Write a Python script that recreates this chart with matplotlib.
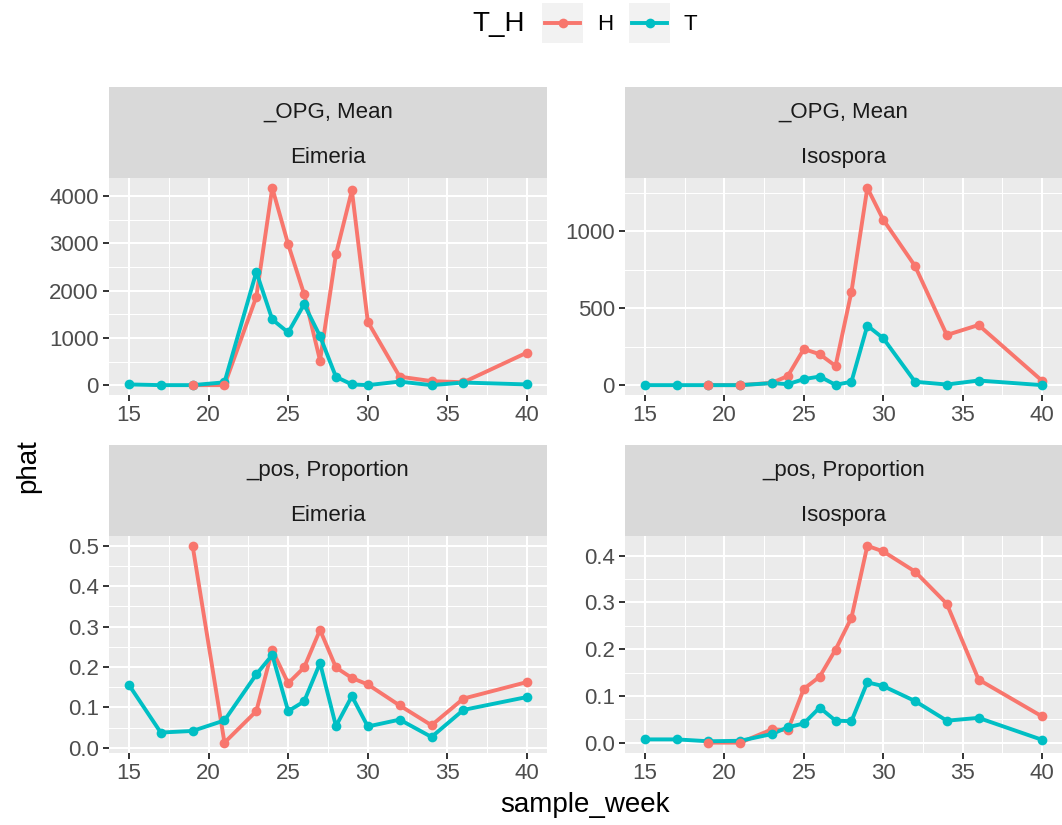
import matplotlib
matplotlib.use("Agg")
import matplotlib.pyplot as plt
from matplotlib.lines import Line2D
from matplotlib.patches import Rectangle
from matplotlib.ticker import MultipleLocator, AutoMinorLocator, FormatStrFormatter

plt.rcParams['font.family'] = ['Liberation Sans', 'DejaVu Sans']

# sample weeks (H group has no samples before week 19)
weeks_T = [15, 17, 19, 21, 23, 24, 25, 26, 27, 28, 29, 30, 32, 34, 36, 40]
weeks_H = [19, 21, 23, 24, 25, 26, 27, 28, 29, 30, 32, 34, 36, 40]

# mean OPG
eimeria_opg_H = [0, 0, 1870, 4175, 2980, 1925, 520, 2770, 4120, 1340, 180, 85, 60, 690]
eimeria_opg_T = [15, 0, 0, 60, 2395, 1390, 1115, 1710, 1035, 175, 15, 0, 75, 0, 55, 15]
isospora_opg_H = [0, 0, 15, 60, 235, 201, 125, 607, 1283, 1076, 775, 326, 391, 28]
isospora_opg_T = [0, 0, 0, 0, 13, 6, 39, 56, 2, 22, 387, 305, 22, 4, 30, 0]

# proportion positive
eimeria_pos_H = [0.5, 0.013, 0.091, 0.242, 0.160, 0.199, 0.292, 0.199, 0.173, 0.157,
                 0.105, 0.056, 0.122, 0.163]
eimeria_pos_T = [0.156, 0.038, 0.042, 0.068, 0.182, 0.230, 0.091, 0.115, 0.210, 0.054,
                 0.128, 0.053, 0.070, 0.027, 0.094, 0.126]
isospora_pos_H = [0, 0, 0.0285, 0.027, 0.115, 0.141, 0.199, 0.267, 0.421, 0.409,
                  0.366, 0.297, 0.135, 0.056]
isospora_pos_T = [0.007, 0.007, 0.003, 0.004, 0.0185, 0.033, 0.041, 0.075, 0.047, 0.046,
                  0.129, 0.121, 0.089, 0.047, 0.053, 0.006]

COL_H = '#F8766D'
COL_T = '#00BFC4'

W, H = 1062, 825


def px_box(left, top, right, bottom):
    """pixel box (origin top-left) -> figure fraction rect"""
    return [left / W, 1 - bottom / H, (right - left) / W, (bottom - top) / H]


fig = plt.figure(figsize=(W / 100, H / 100), dpi=100)
fig.patch.set_facecolor('white')

cols = [(109, 547), (625, 1062)]
rows = [(87, 178, 395), (445, 536, 752.5)]

panels = [
    (0, 0, '_OPG, Mean', 'Eimeria', eimeria_opg_H, eimeria_opg_T, 1000, '%d'),
    (0, 1, '_OPG, Mean', 'Isospora', isospora_opg_H, isospora_opg_T, 500, '%d'),
    (1, 0, '_pos, Proportion', 'Eimeria', eimeria_pos_H, eimeria_pos_T, 0.1, '%.1f'),
    (1, 1, '_pos, Proportion', 'Isospora', isospora_pos_H, isospora_pos_T, 0.1, '%.1f'),
]

for r, c, strip1, strip2, vals_H, vals_T, step, fmt in panels:
    left, right = cols[c]
    s_top, p_top, p_bot = rows[r]

    # two-row facet strip
    sax = fig.add_axes(px_box(left, s_top, right, p_top))
    sax.set_facecolor('#D9D9D9')
    sax.set_xticks([])
    sax.set_yticks([])
    for sp in sax.spines.values():
        sp.set_visible(False)
    sax.text(0.5, 0.72, strip1, ha='center', va='center', fontsize=16, color='#1A1A1A')
    sax.text(0.5, 0.22, strip2, ha='center', va='center', fontsize=16, color='#1A1A1A')

    ax = fig.add_axes(px_box(left, p_top, right, p_bot))
    ax.set_facecolor('#EBEBEB')
    for sp in ax.spines.values():
        sp.set_visible(False)

    ax.plot(weeks_H, vals_H, color=COL_H, lw=2.8, zorder=2, solid_capstyle='butt')
    ax.plot(weeks_T, vals_T, color=COL_T, lw=2.8, zorder=2.1, solid_capstyle='butt')

    # points: T on top, except early weeks where H sits over T
    early = [(w, v) for w, v in zip(weeks_H, vals_H) if w <= 21]
    late = [(w, v) for w, v in zip(weeks_H, vals_H) if w > 21]
    ax.plot([w for w, _ in late], [v for _, v in late], 'o', color=COL_H, ms=7, mew=0, zorder=2.5)
    ax.plot(weeks_T, vals_T, 'o', color=COL_T, ms=7, mew=0, zorder=3)
    ax.plot([w for w, _ in early], [v for _, v in early], 'o', color=COL_H, ms=7, mew=0, zorder=3.5)

    ax.margins(x=0.05, y=0.05)
    ax.xaxis.set_major_locator(MultipleLocator(5))
    ax.xaxis.set_minor_locator(AutoMinorLocator(2))
    ax.yaxis.set_major_locator(MultipleLocator(step))
    ax.yaxis.set_minor_locator(AutoMinorLocator(2))
    ax.yaxis.set_major_formatter(FormatStrFormatter(fmt))

    ax.grid(which='major', color='white', lw=1.5)
    ax.grid(which='minor', color='white', lw=0.75)
    ax.set_axisbelow(True)
    ax.tick_params(which='major', length=4.3, width=1.4, color='#333333',
                   labelsize=16, labelcolor='#4D4D4D', pad=3)
    ax.tick_params(which='minor', length=0)

fig.text(585, H - 805, 'sample_week', transform=None, ha='center', va='center',
         fontsize=20, color='black')
fig.text(28, H - 466, 'phat', transform=None, ha='center', va='center',
         fontsize=20, color='black', rotation=90)

# legend at the top
lax = fig.add_axes(px_box(440, 0, 720, 50))
lax.set_xlim(440, 720)
lax.set_ylim(50, 0)
lax.axis('off')
lax.text(499, 24, 'T_H', ha='center', va='center', fontsize=20)
for x0, col, lab in [(542, COL_H, 'H'), (629, COL_T, 'T')]:
    lax.add_patch(Rectangle((x0, 3), 41, 40, facecolor='#F2F2F2', edgecolor='none'))
    lax.add_line(Line2D([x0 + 3, x0 + 38], [23, 23], color=col, lw=2.8))
    lax.add_line(Line2D([x0 + 20.5], [23], marker='o', color=col, ms=7, mew=0))
    lax.text(x0 + 55, 24, lab, ha='left', va='center', fontsize=16)

fig.savefig('out.png', dpi=100)
